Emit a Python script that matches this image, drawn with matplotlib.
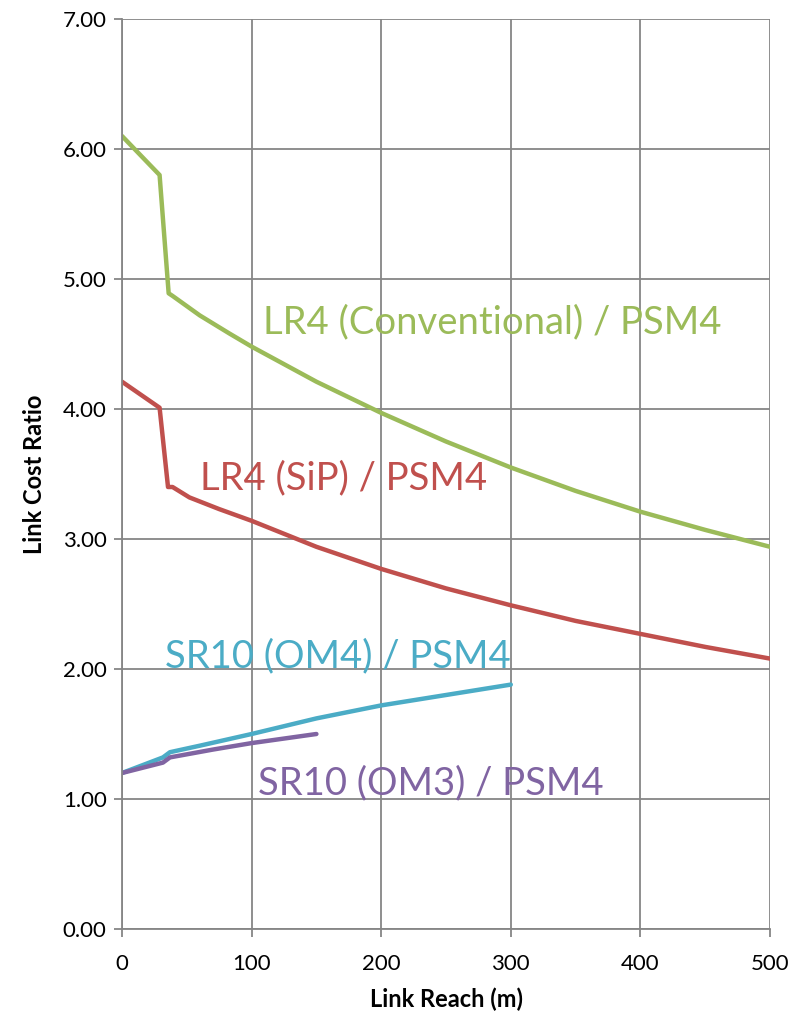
import matplotlib
matplotlib.use('Agg')
import matplotlib.pyplot as plt

# Link cost ratio data
lr4_conv_x = [0, 29, 36, 39, 60, 83, 100, 150, 200, 250, 300, 350, 400, 450, 500]
lr4_conv_y = [6.10, 5.80, 4.89, 4.87, 4.72, 4.58, 4.48, 4.21, 3.97, 3.75, 3.55, 3.37, 3.21, 3.07, 2.94]

lr4_sip_x = [0, 29, 35.5, 39, 52, 75, 100, 150, 200, 250, 300, 350, 400, 450, 500]
lr4_sip_y = [4.21, 4.01, 3.40, 3.40, 3.32, 3.23, 3.14, 2.94, 2.77, 2.62, 2.49, 2.37, 2.27, 2.17, 2.08]

sr10_om4_x = [0, 31.6, 37, 60, 100, 150, 200, 250, 300]
sr10_om4_y = [1.20, 1.32, 1.36, 1.41, 1.50, 1.62, 1.72, 1.80, 1.88]

sr10_om3_x = [0, 31.6, 37, 70, 100, 150]
sr10_om3_y = [1.20, 1.28, 1.32, 1.38, 1.43, 1.50]

labels = ['LR4 (Conventional) / PSM4', 'LR4 (SiP) / PSM4',
          'SR10 (OM4) / PSM4', 'SR10 (OM3) / PSM4']

green = '#9BBB59'
red = '#C0504D'
cyan = '#4BACC6'
purple = '#8064A2'
grid_col = '#868686'

plt.rcParams['font.family'] = ['Lato', 'DejaVu Sans']

fig = plt.figure(figsize=(8.01, 10.16), dpi=100)
ax = fig.add_axes([122 / 801, 1 - 929 / 1016, 648 / 801, 910 / 1016])

lw = 3.2
for xs, ys, c in [(lr4_conv_x, lr4_conv_y, green), (lr4_sip_x, lr4_sip_y, red),
                  (sr10_om4_x, sr10_om4_y, cyan), (sr10_om3_x, sr10_om3_y, purple)]:
    ax.plot(xs, ys, color=c, lw=lw, solid_joinstyle='round', solid_capstyle='round')

ax.set_xlim(0, 500)
ax.set_ylim(0, 7)
ax.set_xticks(range(0, 501, 100))
ax.set_yticks(range(0, 8))
ax.set_yticklabels([f'{v:.2f}' for v in range(0, 8)])
ax.grid(True, color=grid_col, lw=1.3)
ax.set_axisbelow(True)
for s in ['top', 'right']:
    ax.spines[s].set_visible(False)
for s in ['left', 'bottom']:
    ax.spines[s].set_color(grid_col)
    ax.spines[s].set_linewidth(1.3)
ax.tick_params(colors=grid_col, labelcolor='black', labelsize=16, length=6, width=1.3, direction='out')
ax.tick_params(axis='x', pad=12)
ax.tick_params(axis='y', pad=5)

ax.set_xlabel('Link Reach (m)', fontsize=17, fontweight='bold', labelpad=10)
ax.set_ylabel('Link Cost Ratio', fontsize=17, fontweight='bold', labelpad=12)

ax.text(109, 4.67, labels[0], color=green, fontsize=27.5, va='center', ha='left')
ax.text(60, 3.47, labels[1], color=red, fontsize=27.5, va='center', ha='left')
ax.text(33, 2.10, labels[2], color=cyan, fontsize=27.5, va='center', ha='left')
ax.text(105, 1.12, labels[3], color=purple, fontsize=27.5, va='center', ha='left')

fig.savefig('out.png', dpi=100)
